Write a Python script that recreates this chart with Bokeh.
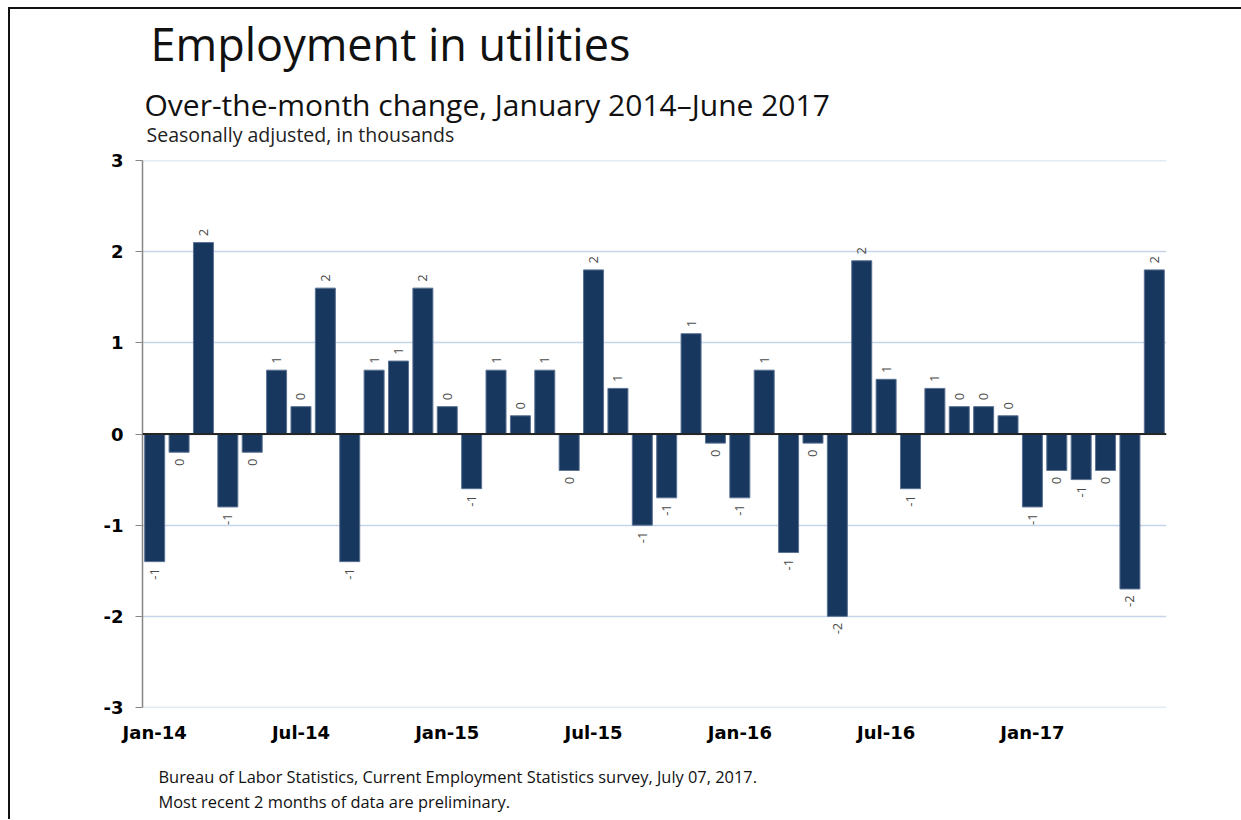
from bokeh.plotting import figure
from bokeh.layouts import column
from bokeh.models import (ColumnDataSource, Range1d, FixedTicker, Span)
from bokeh.core.properties import value
from bokeh.embed import file_html
from bokeh.resources import INLINE
import math

months = ["Jan-14", "Feb-14", "Mar-14", "Apr-14", "May-14", "Jun-14",
          "Jul-14", "Aug-14", "Sep-14", "Oct-14", "Nov-14", "Dec-14",
          "Jan-15", "Feb-15", "Mar-15", "Apr-15", "May-15", "Jun-15",
          "Jul-15", "Aug-15", "Sep-15", "Oct-15", "Nov-15", "Dec-15",
          "Jan-16", "Feb-16", "Mar-16", "Apr-16", "May-16", "Jun-16",
          "Jul-16", "Aug-16", "Sep-16", "Oct-16", "Nov-16", "Dec-16",
          "Jan-17", "Feb-17", "Mar-17", "Apr-17", "May-17", "Jun-17"]

change = [-1.4, -0.2, 2.1, -0.8, -0.2, 0.7,
          0.3, 1.6, -1.4, 0.7, 0.8, 1.6,
          0.3, -0.6, 0.7, 0.2, 0.7, -0.4,
          1.8, 0.5, -1.0, -0.7, 1.1, -0.1,
          -0.7, 0.7, -1.3, -0.1, -2.0, 1.9,
          0.6, -0.6, 0.5, 0.3, 0.3, 0.2,
          -0.8, -0.4, -0.5, -0.4, -1.7, 1.8]

bar_labels = ["-1", "0", "2", "-1", "0", "1",
              "0", "2", "-1", "1", "1", "2",
              "0", "-1", "1", "0", "1", "0",
              "2", "1", "-1", "-1", "1", "0",
              "-1", "1", "-1", "0", "-2", "2",
              "1", "-1", "1", "0", "0", "0",
              "-1", "0", "-1", "0", "-2", "2"]

tick_months = ["Jan-14", "Jul-14", "Jan-15", "Jul-15", "Jan-16", "Jul-16", "Jan-17"]
y_ticks = [-3, -2, -1, 0, 1, 2, 3]
y_tick_labels = ["-3", "-2", "-1", "0", "1", "2", "3"]

title_text = "Employment in utilities"
subtitle_text = "Over-the-month change, January 2014\u2013June 2017"
units_text = "Seasonally adjusted, in thousands"
source_lines = ["Bureau of Labor Statistics, Current Employment Statistics survey, July 07, 2017.",
                "Most recent 2 months of data are preliminary."]

LEFT, FRAME_W, RIGHT = 132, 1024, 75
HEAD_H, FOOT_H = 139, 72


def text_panel(h):
    # frame spans the same columns as the chart; data units equal canvas pixels
    f = figure(frame_width=FRAME_W, frame_height=h,
               min_border_left=LEFT, min_border_right=RIGHT,
               min_border_top=0, min_border_bottom=0,
               x_range=Range1d(LEFT, LEFT + FRAME_W), y_range=Range1d(h, 0),
               x_axis_type=None, y_axis_type=None,
               output_backend="svg", toolbar_location=None, tools="")
    f.outline_line_color = None
    f.background_fill_color = "white"
    f.border_fill_color = "white"
    return f


def put(f, x, y, txt, size, color="#111111"):
    f.text(x=[x], y=[y], text=[txt], text_font=value("Open Sans"), text_font_size=size,
           text_color=color, text_baseline="alphabetic", text_align="left")


# ---------- header ----------
head = text_panel(HEAD_H)
put(head, 140, 34, title_text, "45px")
put(head, 134, 95, subtitle_text, "30px")
put(head, 136, 125, units_text, "19.5px", "#222222")

# ---------- main chart ----------
idx = list(range(len(months)))
pos = [v >= 0 for v in change]
src = ColumnDataSource(dict(
    x=idx, top=change,
    ly=[v + 0.07 if v >= 0 else v - 0.07 for v in change],
    lab=bar_labels,
    align=["left" if p_ else "right" for p_ in pos],
))

p = figure(frame_width=FRAME_W, frame_height=547,
           min_border_left=LEFT, min_border_right=RIGHT,
           min_border_top=12, min_border_bottom=40,
           x_range=Range1d(-0.5, len(months) - 0.5), y_range=Range1d(-3, 3),
           output_backend="svg", toolbar_location=None, tools="")
p.outline_line_color = None
p.background_fill_color = "white"
p.border_fill_color = "white"

for yl in (y_ticks[0], y_ticks[-1]):
    p.add_layout(Span(location=yl, dimension="width", line_color="#C5D5EA",
                      line_width=1.5, level="underlay"))

p.vbar(x="x", top="top", bottom=0, width=0.82, source=src,
       fill_color="#17375E", line_color="#5A7193", line_width=1)

p.text(x="x", y="ly", text="lab", source=src, angle=math.pi / 2,
       text_align="align", text_baseline="middle",
       text_font=value("Open Sans"), text_font_size="13px", text_color="#4A4A4A")

p.add_layout(Span(location=0, dimension="width", line_color="#262626", line_width=2))

p.yaxis.ticker = FixedTicker(ticks=y_ticks)
p.yaxis.major_label_overrides = {t: s for t, s in zip(y_ticks, y_tick_labels)}
p.yaxis.axis_line_color = "#868686"
p.yaxis.axis_line_width = 1.5
p.yaxis.major_tick_line_color = "#868686"
p.yaxis.major_tick_out = 7
p.yaxis.major_tick_in = 0
p.yaxis.minor_tick_line_color = None
p.yaxis.major_label_text_font = "DejaVu Sans"
p.yaxis.major_label_text_font_style = "bold"
p.yaxis.major_label_text_font_size = "18px"
p.yaxis.major_label_text_color = "black"
p.yaxis.major_label_standoff = 12

tick_idx = [months.index(m) for m in tick_months]
p.xaxis.ticker = FixedTicker(ticks=tick_idx)
p.xaxis.major_label_overrides = {i: m for i, m in zip(tick_idx, tick_months)}
p.xaxis.axis_line_color = None
p.xaxis.major_tick_line_color = None
p.xaxis.minor_tick_line_color = None
p.xaxis.major_label_text_font = "DejaVu Sans"
p.xaxis.major_label_text_font_style = "bold"
p.xaxis.major_label_text_font_size = "18px"
p.xaxis.major_label_text_color = "black"
p.xaxis.major_label_standoff = 8

p.xgrid.grid_line_color = None
p.ygrid.ticker = FixedTicker(ticks=y_ticks)
p.ygrid.grid_line_color = "#C5D5EA"
p.ygrid.grid_line_width = 1.5

# ---------- footer ----------
foot = text_panel(FOOT_H)
put(foot, 148, 29, source_lines[0], "16.4px")
put(foot, 148, 54, source_lines[1], "16.4px")

layout = column(head, p, foot, spacing=0)
layout.styles = {"border-top": "2px solid #111111", "border-left": "2px solid #111111",
                 "margin-left": "8px", "margin-top": "7px"}

open("out.html", "w").write(file_html(layout, INLINE))
